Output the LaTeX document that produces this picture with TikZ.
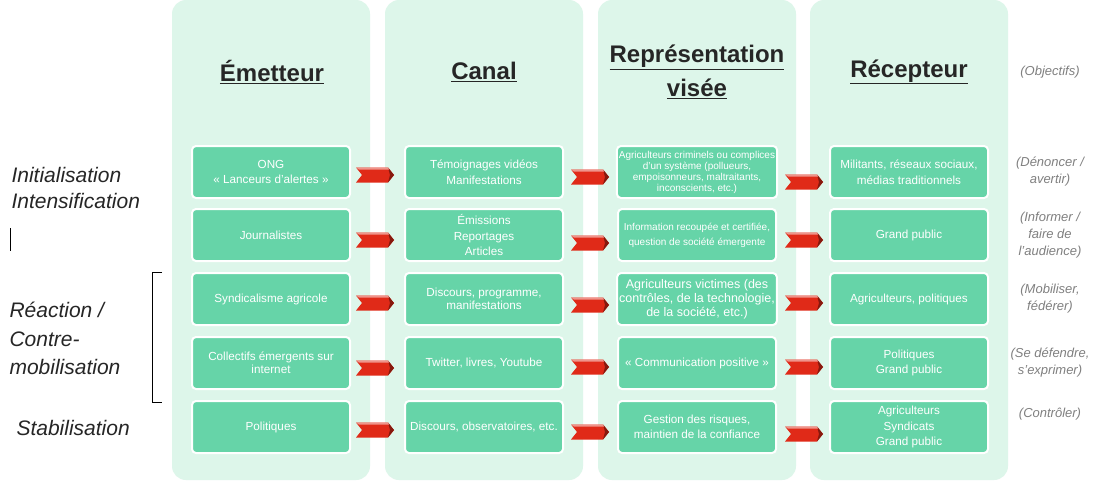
\documentclass[tikz,border=0pt]{standalone}
\usepackage{fontspec}
\setmainfont{Liberation Sans}
\begin{document}
\begin{tikzpicture}[x=1pt,y=-1pt,
 box/.style={fill=boxc, draw=white, line width=2pt, rounded corners=4pt, minimum width=158pt, minimum height=52pt, text=white, align=center, font=\fontsize{11.7}{15.5}\selectfont, inner sep=2pt},
 hdr/.style={font=\fontsize{24}{34}\selectfont\bfseries, align=center, text=black!85},
 side/.style={font=\fontsize{13}{17}\selectfont\itshape, text=gray, align=center},
 lft/.style={font=\fontsize{21}{26}\selectfont\itshape, anchor=west, text=black!85}]
\definecolor{boxc}{HTML}{66D4A8}
\definecolor{panc}{HTML}{DDF6EA}
\definecolor{arr}{HTML}{E02A18}
\useasboundingbox (0,0) rectangle (1104,485);
\fill[white] (0,0) rectangle (1104,485);
\foreach \x in {172,385,598,810} \fill[panc, rounded corners=14pt] (\x,0) rectangle ++(198,480);
\node[hdr] (h1) at (272,72) {\underline{Émetteur}};
\node[hdr] (h2) at (484,72) {\underline{Canal}};
\node[hdr] (h3) at (697,72) {\underline{Représentation}\\\underline{visée}};
\node[hdr] (h4) at (909,72) {\underline{Récepteur}};
\node[side] (o0) at (1050,72) {(Objectifs)};
% boxes
\node[box] (a1) at (271,172) {ONG\\« Lanceurs d'alertes »};
\node[box] (a2) at (271,235) {Journalistes};
\node[box] (a3) at (271,299) {Syndicalisme agricole};
\node[box, font=\fontsize{11.7}{13}\selectfont] (a4) at (271,363) {Collectifs émergents sur\\internet};
\node[box] (a5) at (271,427) {Politiques};
\node[box] (b1) at (484,172) {Témoignages vidéos\\Manifestations};
\node[box] (b2) at (484,235) {Émissions\\Reportages\\Articles};
\node[box, font=\fontsize{11.7}{13}\selectfont] (b3) at (484,299) {Discours, programme,\\manifestations};
\node[box] (b4) at (484,363) {Twitter, livres, Youtube};
\node[box] (b5) at (484,427) {Discours, observatoires, etc.};
\node[box, font=\fontsize{10}{11}\selectfont] (c1) at (697,172) {Agriculteurs criminels ou complices\\d'un système (pollueurs,\\empoisonneurs, maltraitants,\\inconscients, etc.)};
\node[box, font=\fontsize{10}{15}\selectfont] (c2) at (697,235) {Information recoupée et certifiée,\\question de société émergente};
\node[box, font=\fontsize{12.5}{14}\selectfont] (c3) at (697,299) {Agriculteurs victimes (des\\contrôles, de la technologie,\\de la société, etc.)};
\node[box] (c4) at (697,363) {« Communication positive »};
\node[box] (c5) at (697,427) {Gestion des risques,\\maintien de la confiance};
\node[box] (d1) at (909,172) {Militants, réseaux sociaux,\\médias traditionnels};
\node[box] (d2) at (909,235) {Grand public};
\node[box] (d3) at (909,299) {Agriculteurs, politiques};
\node[box] (d4) at (909,363) {Politiques\\Grand public};
\node[box] (d5) at (909,427) {Agriculteurs\\Syndicats\\Grand public};
% side labels
\node[side] (o1) at (1050,172) {(Dénoncer /\\avertir)};
\node[side] (o2) at (1050,235) {(Informer /\\faire de\\l'audience)};
\node[side] (o3) at (1050,299) {(Mobiliser,\\fédérer)};
\node[side] (o4) at (1050,363) {(Se défendre,\\s'exprimer)};
\node[side] (o5) at (1050,414) {(Contrôler)};
% left labels
\node[lft] (l1) at (8,175) {Initialisation};
\node[lft] (l2) at (8,201) {Intensification};
\node[lft] (l3) at (6,310) {Réaction /};
\node[lft] (l4) at (6,339) {Contre-};
\node[lft] (l5) at (6,367) {mobilisation};
\node[lft] (l6) at (13,428) {Stabilisation};
\draw[black, line width=0.8pt] (162,272) -- (152,272) -- (152,402) -- (162,402);
\draw[black, line width=0.6pt] (10,228) -- (10,251);
% chevrons
\tikzset{chev/.pic={\fill[arr] (-19,-7.5) -- (13,-7.5) -- (19,0) -- (13,7.5) -- (-19,7.5) -- (-13,0) -- cycle;
 \fill[arr!60!black] (13,-7.5) -- (19,0) -- (13,7.5) -- (15,0) -- cycle;
 \fill[arr!50!white] (-19,-7.5) -- (13,-7.5) -- (14,-5.5) -- (-16,-5.5) -- cycle;}}
\foreach \y in {175,240,303,368,430} \pic at (375,\y) {chev};
\foreach \y in {177,243,305,367,432} \pic at (590,\y) {chev};
\foreach \y in {182,240,303,367,434} \pic at (804,\y) {chev};
\end{tikzpicture}
\end{document}
